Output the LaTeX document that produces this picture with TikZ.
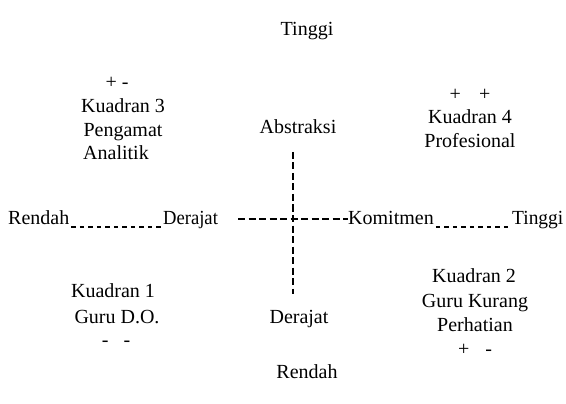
\documentclass[tikz,border=0pt]{standalone}
\usepackage{fontspec}
\setmainfont{Liberation Serif}
\newfontfamily\timesf{Liberation Serif}
\begin{document}
\begin{tikzpicture}[x=1pt,y=-1pt,
  lbl/.style={inner sep=0pt,anchor=base,font=\timesf\fontsize{20}{24}\selectfont},
  lblw/.style={inner sep=0pt,anchor=base west,font=\timesf\fontsize{20}{24}\selectfont},
  dashln/.style={line width=1.4pt,dash pattern=on 7pt off 3.5pt},
  dotln/.style={line width=1.4pt,dash pattern=on 4.5pt off 4pt}]
\useasboundingbox (0,0) rectangle (566,404);
% top / bottom
\node[lbl] (ttop) at (307,36) {Tinggi};
\node[lbl] (rbot) at (307,378) {Rendah};
% quadrant 3
\node[lbl] (q3s) at (117,89) {+ -};
\node[lbl] (q3a) at (123,113) {Kuadran 3};
\node[lbl] (q3b) at (123,137) {Pengamat};
\node[lbl] (q3c) at (116,160) {Analitik};
% quadrant 4
\node[lbl] (q4s) at (470,101) {+\hspace{18pt}+};
\node[lbl] (q4a) at (470,124) {Kuadran 4};
\node[lbl] (q4b) at (470,148) {Profesional};
% quadrant 1
\node[lbl] (q1a) at (113,298) {Kuadran 1};
\node[lbl] (q1b) at (117,323) {Guru D.O.};
\node[lbl] (q1s) at (116,346) {-\hspace{15pt}-};
% quadrant 2
\node[lbl] (q2a) at (474,283) {Kuadran 2};
\node[lbl] (q2b) at (475,307) {Guru Kurang};
\node[lbl] (q2c) at (475,331) {Perhatian};
\node[lbl] (q2s) at (475,355) {+\hspace{16pt}-};
% axis labels
\node[lbl] (abs) at (298,134) {Abstraksi};
\node[lbl] (derb) at (299,323) {Derajat};
% horizontal row
\node[lblw] (rend) at (8,225) {Rendah};
\node[lblw,xscale=0.93] (derl) at (163,225) {Derajat};
\node[lblw] (kom) at (348,225) {Komitmen};
\node[lblw,xscale=0.97] (tingr) at (512,225) {Tinggi};
% connectors
\draw[dotln] (rend.base east) ++(2,2) coordinate (d1s) -- (d1s -| derl.west);
\draw[dotln] (kom.base east) ++(2,2) coordinate (d2s) -- (d2s -| tingr.west);
\coordinate (hl) at (238,219);
\draw[dashln] (hl) -- (hl -| kom.west);
\coordinate (vt) at (293,152);
\coordinate (vb) at (293,294);
\draw[dashln] (vt) -- (vb);
\end{tikzpicture}
\end{document}
